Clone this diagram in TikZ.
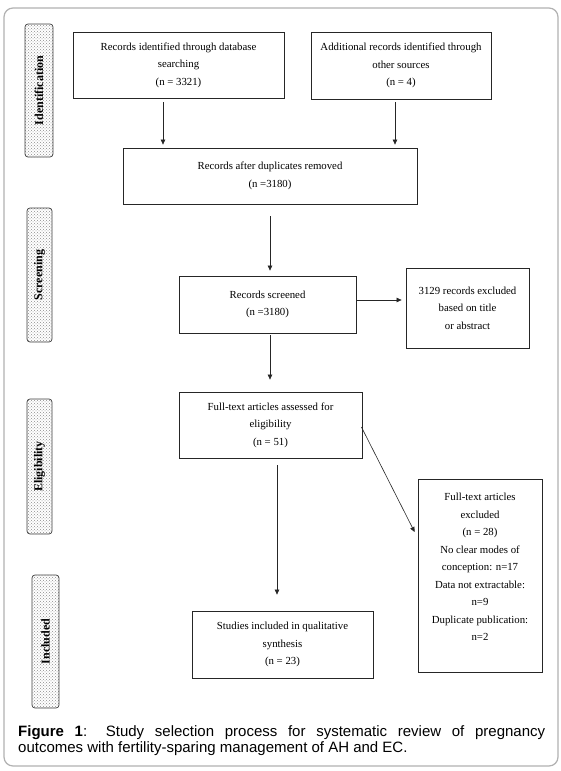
\documentclass[tikz,border=0pt]{standalone}
\usepackage{fontspec}
\setmainfont{Liberation Serif}
\newfontfamily\capfont{Liberation Sans}
\usetikzlibrary{arrows.meta,patterns,calc}
\begin{document}
\begin{tikzpicture}[x=1pt,y=-1pt,
  box/.style={draw=black!85, line width=0.8pt, align=center, inner sep=0pt,
    font=\fontsize{10.8}{17.5}\selectfont},
  side/.style={draw=black!75, line width=0.7pt, rounded corners=3pt,
    pattern=crosshatch dots, pattern color=black!45, inner sep=0pt,
    rotate=90, font=\bfseries\fontsize{12}{14}\selectfont},
  arr/.style={draw=black!85, line width=0.6pt, -{Triangle[length=5pt,width=4.5pt]}}
]
\useasboundingbox (0,0) rectangle (560,771);
\fill[white] (0,0) rectangle (560,771);
\draw[black!30, line width=1.2pt, rounded corners=9pt] (4,8) rectangle (558,766);

% phase labels
\node[side, minimum width=133pt, minimum height=28pt] (pid) at (39,90.5) {Identification};
\node[side, minimum width=134pt, minimum height=25pt] (psc) at (39.5,275) {Screening};
\node[side, minimum width=135pt, minimum height=25pt] (pel) at (39.5,466.5) {Eligibility};
\node[side, minimum width=133pt, minimum height=27pt] (pin) at (45.5,641.5) {Included};

% boxes
\node[box, minimum width=211pt, minimum height=66pt] (b1) at (178.5,65)
  {Records identified through database\\ searching\\ (n = 3321)};
\node[box, minimum width=180pt, minimum height=67pt] (b2) at (401,65.5)
  {Additional records identified through\\ other sources\\ (n = 4)};
\node[box, minimum width=294pt, minimum height=56pt] (b3) at (270,176)
  {Records after duplicates removed\\ (n =3180)};
\node[box, minimum width=177pt, minimum height=57pt] (b4) at (267.5,304.5)
  {Records screened\\ (n =3180)};
\node[box, minimum width=123pt, minimum height=80pt] (b5) at (467.5,308)
  {3129 records excluded\\ based on title\\ or abstract};
\node[box, minimum width=183pt, minimum height=66pt] (b6) at (270.5,425)
  {Full-text articles assessed for\\ eligibility\\ (n = 51)};
\node[box, minimum width=124pt, minimum height=193pt] (b7) at (480,575.5)
  {Full-text articles\\ excluded\\ (n = 28)\\ No clear modes of\\ conception: n=17\\ Data not extractable:\\ n=9\\ Duplicate publication:\\ n=2\\ \mbox{}};
\node[box, minimum width=181pt, minimum height=67pt] (b8) at (282.5,644.5)
  {Studies included in qualitative\\ synthesis\\ (n = 23)};

% helper coordinates
\coordinate (c163) at (163,0);
\coordinate (c395) at (395,0);
\coordinate (c270) at (270,0);
\coordinate (c277) at (277,0);
\coordinate (r300) at (0,300);
\coordinate (r427) at (0,427);
\coordinate (r532) at (0,532);

% connectors
\draw[arr] ([yshift=-4pt]b1.south -| c163) -- ([yshift=3pt]b3.north -| c163);
\draw[arr] ([yshift=-3pt]b2.south -| c395) -- ([yshift=3pt]b3.north -| c395);
\draw[arr] ([yshift=-12pt]b3.south -| c270) -- ([yshift=5pt]b4.north -| c270);
\draw[arr] ([yshift=-2pt]b4.south -| c270) -- ([yshift=12pt]b6.north -| c270);
\draw[arr] (b4.east |- r300) -- ([xshift=-4pt]b5.west |- r300);
\draw[arr] ([xshift=-1pt]b6.east |- r427) -- ([xshift=-3pt]b7.west |- r532);
\draw[arr] ([yshift=-7pt]b6.south -| c277) -- ([yshift=16pt]b8.north -| c277);

% caption
\node[anchor=north west, inner sep=0pt, text width=527pt, align=justify,
  font=\capfont\fontsize{15}{16.5}\selectfont] (cap) at (18,725)
  {\textbf{Figure 1}: Study selection process for systematic review of pregnancy\linebreak outcomes with fertility-sparing management of AH and EC.};
\end{tikzpicture}
\end{document}
